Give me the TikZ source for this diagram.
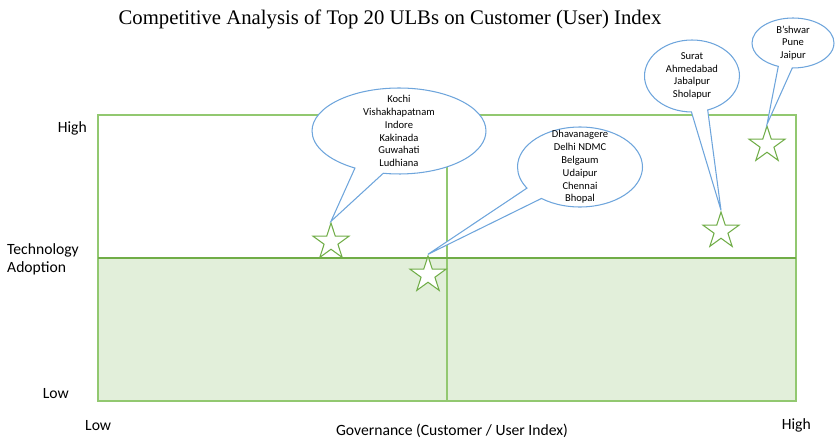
\documentclass[tikz,border=0pt]{standalone}
\usepackage{fontspec}
\setmainfont{Carlito}
\newfontfamily\titlefont{Liberation Serif}
\usetikzlibrary{shapes.geometric,shapes.callouts}
\definecolor{quadline}{RGB}{146,200,112}
\definecolor{midline}{RGB}{112,173,71}
\definecolor{lowfill}{RGB}{226,239,218}
\definecolor{bubbleline}{RGB}{110,165,220}
\tikzset{
    ulb/.style={star,star points=5,star point ratio=2.618,minimum size=0.76cm,inner sep=0pt,
        draw=midline,fill=white,line width=0.6pt},
    bubble/.style={ellipse callout,draw=bubbleline,fill=white,line width=0.6pt,inner sep=0pt,
        callout pointer arc=20},
    names/.style={align=center,font=\fontsize{6}{7.3}\selectfont},
    axislabel/.style={font=\fontsize{8.9}{10.2}\selectfont}
}
\begin{document}
\begin{tikzpicture}[x=0.02cm,y=-0.02cm]
    \useasboundingbox (0,0) rectangle (835,442);
    % quadrants
    \coordinate (tl) at (98,115);
    \coordinate (br) at (796,401);
    \fill[lowfill] (98,258) rectangle (br);
    \draw[quadline,line width=0.9pt] (tl) rectangle (br);
    \draw[quadline,line width=0.9pt] (447,115) -- (447,401);
    \draw[midline,line width=1.3pt] (98,258) -- (796,258);
    % stars
    \node[ulb] (s1) at (331,242) {};
    \node[ulb] (s2) at (428,275) {};
    \node[ulb] (s3) at (721,231) {};
    \node[ulb] (s4) at (767,145) {};
    % callouts
    \node[bubble,minimum width=3.48cm,minimum height=1.72cm,callout absolute pointer={(s1.north)}] (c1) at (399,131) {};
    \node[bubble,minimum width=2.5cm,minimum height=1.6cm,callout absolute pointer={(s2.north)}] (c2) at (580,167) {};
    \node[bubble,minimum width=1.9cm,minimum height=1.44cm,callout absolute pointer={(s3.north)}] (c3) at (692,76) {};
    \node[bubble,minimum width=1.64cm,minimum height=1.0cm,callout absolute pointer={(s4.north)}] (c4) at (793,43) {};
    \node[names] at (c1) {Kochi\\Vishakhapatnam\\Indore\\Kakinada\\Guwahati\\Ludhiana};
    \node[names] at (c2) {Dhavanagere\\Delhi NDMC\\Belgaum\\Udaipur\\Chennai\\Bhopal};
    \node[names] at (c3) {Surat\\Ahmedabad\\Jabalpur\\Sholapur};
    \node[names] at (c4) {B'shwar\\Pune\\Jaipur};
    % labels
    \node[font=\titlefont\fontsize{11.8}{13}\selectfont] (title) at (390,19) {Competitive Analysis of Top 20 ULBs on Customer (User) Index};
    \node[axislabel,anchor=east] (yhigh) at (93,128) {High};
    \node[axislabel,align=left,anchor=west] (ylab) at (1,259) {Technology\\Adoption};
    \node[axislabel,anchor=east] (ylow) at (75,394) {Low};
    \node[axislabel,anchor=west] (xlow) at (79,426) {Low};
    \node[axislabel] (xlab) at (452,431) {Governance (Customer / User Index)};
    \node[axislabel,anchor=east] (xhigh) at (817,425) {High};
\end{tikzpicture}
\end{document}
